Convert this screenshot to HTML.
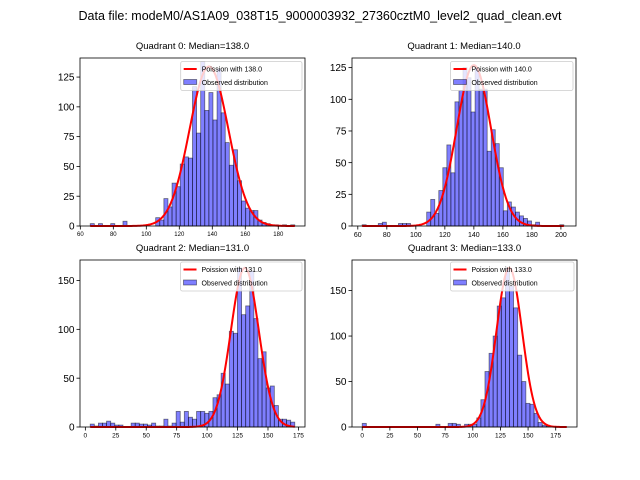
<!DOCTYPE html>
<html><head><meta charset="utf-8"><style>
html,body{margin:0;padding:0;background:#fff;}
svg{display:block;font-family:"Liberation Sans","DejaVu Sans",sans-serif;}
</style></head><body>
<svg id="fig" width="640" height="480" viewBox="0 0 640 480">
<rect x="0" y="0" width="640" height="480" fill="#fff"/>
<text x="320" y="20" font-size="12.5" text-anchor="middle" fill="#000">Data file: modeM0/AS1A09_038T15_9000003932_27360cztM0_level2_quad_clean.evt</text>
</svg>
<script>
// ---- data ----
const q0Counts=[2,0,2,0,0,2,0,0,4,0,0,0,0,0,0,0,7,5,23,16,36,33,52,58,57,117,78,138,97,112,89,132,95,70,51,64,38,21,15,13,13,5,3,2,1,1,0,1,0,1];
const q1Counts=[1,0,0,0,2,3,0,0,0,2,2,2,0,0,0,0,11,21,10,28,46,64,42,98,107,125,117,90,125,108,108,59,76,65,46,12,19,15,11,8,6,4,1,3,0,0,0,0,0,1];
const q2Counts=[3,1,4,4,6,4,2,2,0,0,4,4,3,3,2,4,1,1,8,1,4,16,5,16,10,8,16,16,14,16,30,33,55,44,98,96,163,115,124,160,111,70,77,40,42,22,8,8,7,5];
const q3Counts=[4,0,0,0,0,0,0,0,0,0,0,0,0,0,0,0,0,0,3,0,0,4,4,3,0,3,3,3,10,30,61,81,100,133,142,175,155,131,79,50,26,25,15,5,2,1,0,0,0,0];
const binStarts=[66,63,4,0];
const binEnds=[190,202,172,185];
const poissonMeans=[138,140,131,133];
const curvePeaks=[134,127,163,175];
const medians=["138.0","140.0","131.0","133.0"];
const xTicks0=[60,80,100,120,140,160,180];
const xTicks1=[60,80,100,120,140,160,180,200];
const xTicks2=[0,25,50,75,100,125,150,175];
const xTicks3=[0,25,50,75,100,125,150,175];
const yTicks0=[0,25,50,75,100,125];
const yTicks1=[0,25,50,75,100,125];
const yTicks2=[0,50,100,150];
const yTicks3=[0,50,100,150];
const xLims=[[59.8,196.2],[56,210.4],[-4.4,180.4],[-9.25,194.25]];
const yLims=[[0,141],[0,132.6],[0,171],[0,183.6]];

const NS="http://www.w3.org/2000/svg";
const svg=document.getElementById('fig');
function mk(tag,attrs,parent){const e=document.createElementNS(NS,tag);for(const k in attrs)e.setAttribute(k,attrs[k]);(parent||svg).appendChild(e);return e;}

const boxes=[[80,58,305,226],[352,58,576,226],[80,260,305,427],[352,260,577,427]];
const xFont=[6,7,6.5,6.5];
const legendBoxes=[[180.7,61.5],[450.5,61.5],[180.5,262],[450.5,262]];
const countsAll=[q0Counts,q1Counts,q2Counts,q3Counts];
const xTicksAll=[xTicks0,xTicks1,xTicks2,xTicks3];
const yTicksAll=[yTicks0,yTicks1,yTicks2,yTicks3];

for(let p=0;p<4;p++){
  const [L,T,R,B]=boxes[p];
  const g=mk('g',{});
  
  
  const xs=v=>L+(v-xLims[p][0])/(xLims[p][1]-xLims[p][0])*(R-L);
  const ys=v=>B-(v-yLims[p][0])/(yLims[p][1]-yLims[p][0])*(B-T);
  const counts=countsAll[p];
  const w=(binEnds[p]-binStarts[p])/counts.length;
  counts.forEach((c,i)=>{
    if(c<=0)return;
    const x0=xs(binStarts[p]+i*w), x1=xs(binStarts[p]+(i+1)*w);
    const r=mk('rect',{x:x0,y:ys(c),width:x1-x0,height:ys(0)-ys(c),fill:'rgba(0,0,255,0.5)',stroke:'rgba(0,0,0,0.5)','stroke-width':0.8},g);
    
    
  });
  // poisson curve
  let d='';
  const lam=poissonMeans[p];
  for(let x=binStarts[p];x<=binEnds[p];x+=1){
    const y=curvePeaks[p]*Math.exp(-(x-lam)*(x-lam)/(2*lam));
    d+=(d?'L':'M')+xs(x).toFixed(2)+' '+ys(y).toFixed(2);
  }
  const cur=mk('path',{d:d,fill:'none',stroke:'#ff0000','stroke-width':2,'stroke-linejoin':'round'},g);
  
  
  // frame
  const fr=mk('rect',{x:L,y:T,width:R-L,height:B-T,fill:'none',stroke:'#000','stroke-width':0.8},g);
  
  
  // x ticks
  xTicksAll[p].forEach(t=>{
    const x=xs(t);
    mk('line',{x1:x,y1:B,x2:x,y2:B+3.5,stroke:'#000','stroke-width':0.8},g);
    const tx=mk('text',{x:x,y:B+4+xFont[p],'font-size':xFont[p],'text-anchor':'middle',fill:'#000'},g);
    tx.textContent=t;
    
    
  });
  yTicksAll[p].forEach(t=>{
    const y=ys(t);
    mk('line',{x1:L-3.5,y1:y,x2:L,y2:y,stroke:'#000','stroke-width':0.8},g);
    const tx=mk('text',{x:L-5.5,y:y+3.6,'font-size':10,'text-anchor':'end',fill:'#000'},g);
    tx.textContent=t;
    
    
  });
  // title
  const tt=mk('text',{x:(L+R)/2,y:T-9,'font-size':9.5,'text-anchor':'middle',fill:'#000'},g);
  tt.textContent='Quadrant '+p+': Median='+medians[p];
  
  
  // legend
  const [lx,ly]=legendBoxes[p];
  const lg=mk('g',{},g);
  
  
  mk('rect',{x:lx,y:ly,width:R-3-lx,height:29,rx:2,fill:'rgba(255,255,255,0.8)',stroke:'#ccc','stroke-width':0.8},lg);
  mk('line',{x1:lx+3,y1:ly+7.5,x2:lx+16,y2:ly+7.5,stroke:'#ff0000','stroke-width':2},lg);
  const t1=mk('text',{x:lx+21,y:ly+10,'font-size':7,fill:'#000'},lg);
  t1.textContent='Poission with '+medians[p];
  
  
  mk('rect',{x:lx+3,y:ly+18,width:13,height:5,fill:'rgba(0,0,255,0.5)',stroke:'rgba(0,0,0,0.5)','stroke-width':0.8},lg);
  const t2=mk('text',{x:lx+21,y:ly+23.5,'font-size':7,fill:'#000'},lg);
  t2.textContent='Observed distribution';
  
  
}
</script>
</body></html>
